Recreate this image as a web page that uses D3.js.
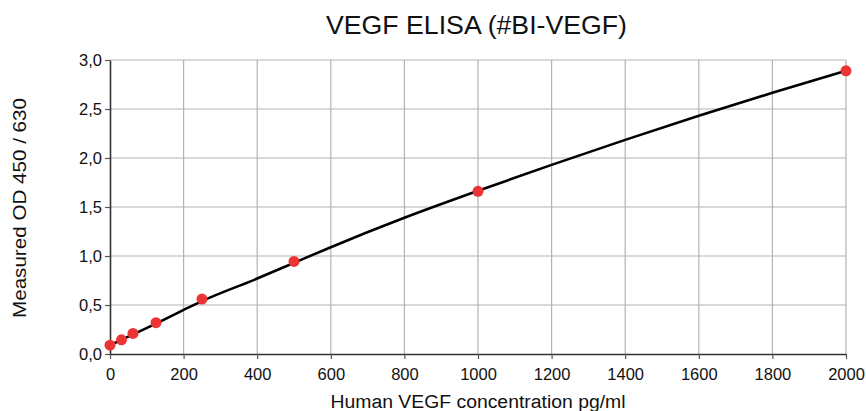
<!DOCTYPE html>
<html><head><meta charset="utf-8">
<script src="https://cdn.jsdelivr.net/npm/d3@7"></script>
<style>body{margin:0;background:#fff}svg{display:block;font-family:"Liberation Sans",Arial,sans-serif}</style>
</head><body><svg id="c" width="866" height="411"></svg>
<script>
const concentrations = [0, 31.25, 62.5, 125, 250, 500, 1000, 2000];
const odValues = [0.09, 0.145, 0.21, 0.32, 0.56, 0.945, 1.66, 2.89];
const curveX = [0, 31.25, 62.5, 125, 200, 250, 400, 500, 600, 800, 1000, 1200, 1400, 1600, 1800, 2000];
const curveY = [0.09, 0.145, 0.2, 0.31, 0.45, 0.54, 0.77, 0.93, 1.09, 1.39, 1.665, 1.93, 2.185, 2.43, 2.665, 2.89];
const xTicks = [0, 200, 400, 600, 800, 1000, 1200, 1400, 1600, 1800, 2000];
const yTicks = [0, 0.5, 1.0, 1.5, 2.0, 2.5, 3.0];

const svg = d3.select("#c");
const m = {l:110, r:846, t:60, b:354};
const x = d3.scaleLinear().domain([0,2000]).range([m.l, m.r]);
const y = d3.scaleLinear().domain([0,3]).range([m.b, m.t]);

// grid
svg.append("g").selectAll("line").data(xTicks.slice(1)).join("line")
  .attr("x1", d=>x(d)).attr("x2", d=>x(d)).attr("y1", m.t).attr("y2", m.b)
  .attr("stroke", "#b3b3b3").attr("stroke-width", 1.2);
svg.append("g").selectAll("line").data(yTicks.slice(1)).join("line")
  .attr("x1", m.l).attr("x2", m.r).attr("y1", d=>y(d)).attr("y2", d=>y(d))
  .attr("stroke", "#b3b3b3").attr("stroke-width", 1.2);

const fmt = d => d3.format(".1f")(d).replace(".", ",");
const xa = svg.append("g").attr("transform", `translate(0,${m.b})`)
  .call(d3.axisBottom(x).tickValues(xTicks).tickFormat(d3.format("d")).tickSize(5).tickPadding(9).tickSizeOuter(0));
const ya = svg.append("g").attr("transform", `translate(${m.l},0)`)
  .call(d3.axisLeft(y).tickValues(yTicks).tickFormat(fmt).tickSize(5).tickPadding(3).tickSizeOuter(0));
[xa, ya].forEach(a => {
  a.select(".domain").attr("stroke", "#333").attr("stroke-width", 1.6);
  a.selectAll(".tick line").attr("stroke", "#555").attr("stroke-width", 1.2);
  a.selectAll(".tick text").attr("font-size", 16.5).attr("fill", "#111")
   .attr("font-family", "'Liberation Sans',Arial,sans-serif");
});

// curve
const pts = curveX.map((d,i)=>[d, curveY[i]]);
svg.append("path").datum(pts)
  .attr("d", d3.line().x(d=>x(d[0])).y(d=>y(d[1])).curve(d3.curveMonotoneX))
  .attr("fill", "none").attr("stroke", "#000").attr("stroke-width", 2.6);

// points
svg.append("g").selectAll("circle").data(concentrations).join("circle")
  .attr("cx", d=>x(d)).attr("cy", (d,i)=>y(odValues[i])).attr("r", 5.5)
  .attr("fill", "#ec3434");

// titles
svg.append("text").attr("x", 476.5).attr("y", 34).attr("text-anchor", "middle")
  .attr("font-size", 25).attr("textLength", 301).attr("lengthAdjust", "spacingAndGlyphs")
  .attr("fill", "#111").text("VEGF ELISA (#BI-VEGF)");
svg.append("text").attr("x", 478).attr("y", 408).attr("text-anchor", "middle")
  .attr("font-size", 18).attr("textLength", 295).attr("lengthAdjust", "spacingAndGlyphs")
  .attr("fill", "#111").text("Human VEGF concentration pg/ml");
svg.append("text").attr("transform", "translate(26,208) rotate(-90)").attr("text-anchor", "middle")
  .attr("font-size", 18).attr("textLength", 220).attr("lengthAdjust", "spacingAndGlyphs")
  .attr("fill", "#111").text("Measured OD 450 / 630");
</script></body></html>
